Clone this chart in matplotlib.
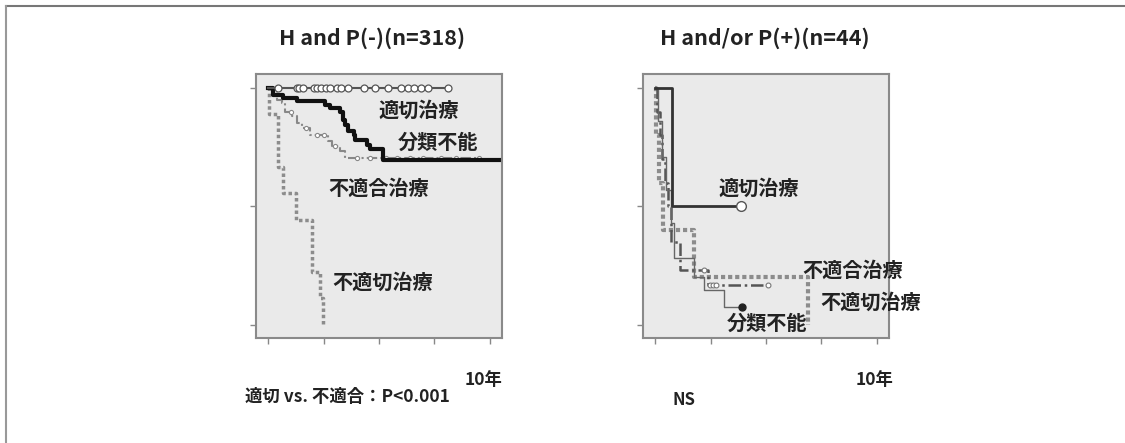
import numpy as np
import matplotlib
matplotlib.use("Agg")
import matplotlib.pyplot as plt
from matplotlib.lines import Line2D

plt.rcParams['font.family'] = ['Noto Sans CJK JP', 'DejaVu Sans']

# 左: H and P(-)(n=318)
l_ok_cens = [0.45, 1.28, 1.4, 1.55, 2.04, 2.2, 2.4, 2.6, 2.8, 3.1, 3.3, 3.6,
             4.3, 4.8, 5.4, 6.0, 6.3, 6.6, 6.9, 7.2, 8.14]
l_unc_t = [0, 0.23, 0.68, 1.28, 2.56, 2.79, 3.24, 3.39, 3.47, 3.62, 3.85, 3.92, 4.45, 4.6, 5.2, 10.56]
l_unc_s = [1, .972, .958, .946, .93, .915, .90, .866, .845, .817, .803, .779, .76, .744, .694, .694]
l_mis_t = [0, .15, .38, .6, .75, 1.06, 1.28, 1.5, 1.89, 2.7, 2.87, 3.24, 3.47, 9.5]
l_mis_s = [1, .99, .95, .937, .90, .88, .852, .83, .803, .775, .754, .732, .704, .704]
l_mis_cens = [1.0, 1.7, 2.2, 2.5, 3.0, 4.0, 4.6, 5.3, 5.8, 6.4, 7.0, 7.8, 8.5, 9.5]
l_bad_t = [0, 0.02, 0.45, 0.65, 1.25, 1.96, 2.34, 2.46]
l_bad_s = [1, .889, .667, .556, .444, .222, .111, 0]

# 右: H and/or P(+)(n=44)
r_ok_t = [0, 0.75, 3.89]
r_ok_s = [1, 0.5, 0.5]
r_unc_t = [0, 0.1, 0.3, 0.5, 0.7, 0.85, 1.76, 2.2, 3.1, 3.9]
r_unc_s = [1, .86, .71, .57, .43, .28, .2, .148, .074, .074]
r_mis_t = [0, 0.08, 0.2, 0.3, 0.45, 0.55, 0.7, 1.1, 2.4, 5.07]
r_mis_s = [1, .9, .8, .7, .6, .5, .35, .232, .169, .169]
r_mis_cens = [2.2, 2.45, 2.6, 2.75, 5.07]
r_bad_t = [0, 0.05, 0.15, 0.36, 1.76, 6.88]
r_bad_s = [1, .8, .6, .4, .2, 0]


def s_at(tt, ss, x):
    i = np.searchsorted(tt, x, side='right') - 1
    return np.asarray(ss)[i]


W, H = 1125, 443
fig = plt.figure(figsize=(W / 100, H / 100), dpi=100)


def fx(x):
    return x / W


def fy(y):
    return 1 - y / H


def setup(ax):
    ax.set_facecolor('#eaeaea')
    ax.set_xlim(-0.56, 10.56)
    ax.set_ylim(-0.056, 1.059)
    ax.set_xticks([0, 2.5, 5, 7.5, 10])
    ax.set_yticks([0, 0.5, 1.0])
    ax.set_xticklabels([])
    ax.set_yticklabels([])
    ax.tick_params(length=4, width=1, color='#888888')
    for sp in ax.spines.values():
        sp.set_color('#8a8a8a')
        sp.set_linewidth(1.5)


axL = fig.add_axes([fx(256), fy(338), fx(246), 264 / H])
axR = fig.add_axes([fx(643), fy(338), fx(246), 264 / H])
setup(axL)
setup(axR)

# 左パネル
axL.step(l_bad_t, l_bad_s, where='post', color='#8c8c8c', lw=2.5, ls=(0, (1, 0.8)))
axL.step(l_mis_t, l_mis_s, where='post', color='#888888', lw=1.5, ls=(0, (5, 1.5, 1, 1.5)))
axL.plot(l_mis_cens, s_at(l_mis_t, l_mis_s, l_mis_cens), ls='none', marker='o',
         ms=3, mfc='white', mec='#888888', mew=0.8)
axL.step(l_unc_t, l_unc_s, where='post', color='#111111', lw=3)
axL.plot([0, l_ok_cens[-1]], [1, 1], color='#555555', lw=1.5)
axL.plot(l_ok_cens, np.ones(len(l_ok_cens)), ls='none', marker='o', ms=5,
         mfc='white', mec='#555555', mew=0.9)

# 右パネル
axR.step(r_bad_t, r_bad_s, where='post', color='#8c8c8c', lw=3, ls=(0, (1, 0.7)))
axR.step(r_mis_t, r_mis_s, where='post', color='#555555', lw=1.8, ls=(0, (5, 1.5, 1, 1.5)))
axR.plot(r_mis_cens, s_at(r_mis_t, r_mis_s, r_mis_cens), ls='none', marker='o',
         ms=3.5, mfc='white', mec='#777777', mew=0.8)
axR.step(r_unc_t, r_unc_s, where='post', color='#666666', lw=1)
axR.plot(r_unc_t[-1], r_unc_s[-1], marker='o', ms=5, color='#222222')
axR.step(r_ok_t, r_ok_s, where='post', color='#333333', lw=2)
axR.plot(r_ok_t[-1], r_ok_s[-1], marker='o', ms=7, mfc='white', mec='#555555', mew=1)

# タイトル
fig.text(fx(372), fy(38), 'H and P(-)(n=318)', ha='center', va='center',
         fontsize=15.5, fontweight='bold', color='#222222')
fig.text(fx(765), fy(38), 'H and/or P(+)(n=44)', ha='center', va='center',
         fontsize=15.5, fontweight='bold', color='#222222')

lab = dict(fontsize=14.5, fontweight='bold', color='#222222', va='center', ha='left')
fig.text(fx(378), fy(110), '適切治療', **lab)
fig.text(fx(398), fy(142), '分類不能', **lab)
fig.text(fx(328), fy(188), '不適合治療', **lab)
fig.text(fx(332), fy(282), '不適切治療', **lab)

fig.text(fx(718), fy(188), '適切治療', **lab)
fig.text(fx(802), fy(270), '不適合治療', **lab)
fig.text(fx(820), fy(302), '不適切治療', **lab)
fig.text(fx(727), fy(323), '分類不能', **lab)

fig.text(fx(484), fy(380), '10年', ha='center', va='center', fontsize=12.5,
         fontweight='bold', color='#222222')
fig.text(fx(875), fy(380), '10年', ha='center', va='center', fontsize=12.5,
         fontweight='bold', color='#222222')
fig.text(fx(245), fy(397), '適切 vs. 不適合：P<0.001', ha='left', va='center',
         fontsize=12.5, fontweight='bold', color='#222222')
fig.text(fx(672), fy(400), 'NS', ha='left', va='center', fontsize=12,
         fontweight='bold', color='#222222')

# 外枠（上と左）
fig.add_artist(Line2D([fx(5.5), 1], [fy(6), fy(6)], color='#777777', lw=1.5))
fig.add_artist(Line2D([fx(6), fx(6)], [fy(6), 0], color='#999999', lw=1.5))

fig.savefig('out.png', dpi=100)
